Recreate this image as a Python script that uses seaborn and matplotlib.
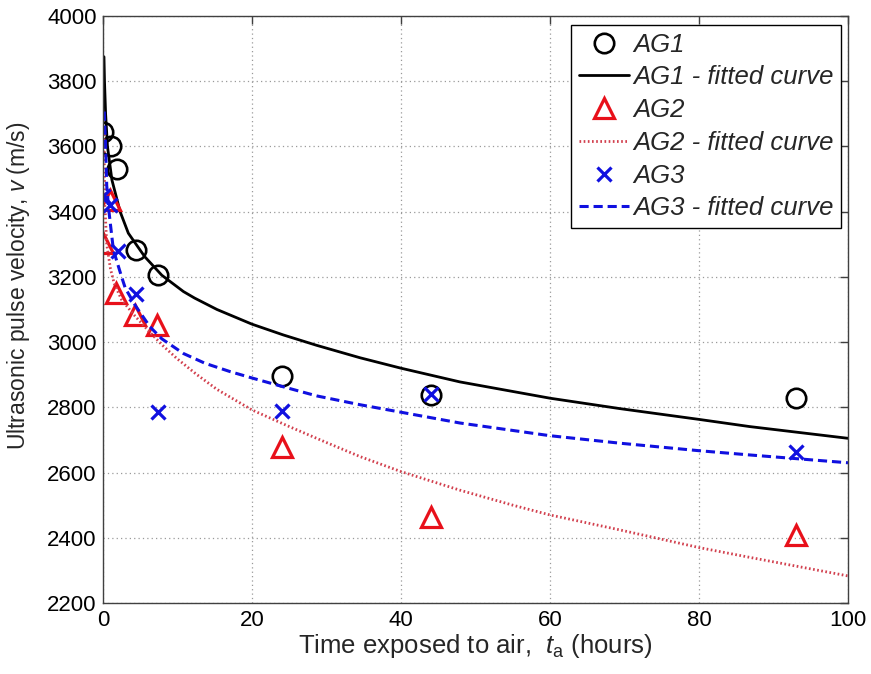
import matplotlib
matplotlib.use("Agg")
import matplotlib.pyplot as plt
import seaborn as sns
import numpy as np
import pandas as pd

# ---- measured data ----
ag1_t = [0.0, 1.1, 1.9, 4.4, 7.4, 24.0, 44.0, 93.0]
ag1_v = [3645, 3600, 3530, 3282, 3207, 2895, 2838, 2828]

ag2_t = [0.0, 0.9, 1.8, 4.3, 7.3, 24.0, 44.0, 93.0]
ag2_v = [3305, 3437, 3150, 3082, 3051, 2677, 2465, 2409]

ag3_t = [0.0, 1.0, 2.0, 4.4, 7.4, 24.0, 44.0, 93.0]
ag3_v = [3447, 3420, 3278, 3146, 2785, 2788, 2840, 2664]

fit1_t = [0.13, 0.2, 0.35, 0.6, 1.2, 2.3, 3.4, 5.6, 7.9, 10.8, 12.3, 15.3, 20, 24.2,
          28.7, 34.5, 40, 47.9, 60, 69.4, 80, 86.8, 100]
fit1_v = [3875, 3800, 3700, 3600, 3497, 3400, 3334, 3262, 3205, 3155, 3135, 3100, 3055,
          3022, 2990, 2952, 2920, 2878, 2828, 2796, 2763, 2741, 2705]

fit2_t = [0.12, 0.25, 0.5, 1.0, 1.5, 2.5, 4.1, 6.3, 8, 9.9, 12.5, 15.3, 20, 25, 30,
          34.5, 40, 47.9, 55, 60, 69.4, 80, 86.8, 100]
fit2_v = [3650, 3420, 3300, 3225, 3180, 3130, 3085, 3030, 2990, 2950, 2902, 2855, 2792,
          2741, 2692, 2649, 2603, 2546, 2500, 2470, 2424, 2370, 2340, 2283]

fit3_t = [0.17, 0.35, 0.5, 0.8, 1.4, 2.5, 3.0, 4.4, 6.3, 7.9, 10.8, 13.7, 17, 20, 24.2,
          28.7, 34.5, 40, 47.9, 60, 69.4, 80, 86.8, 100]
fit3_v = [3707, 3600, 3480, 3400, 3282, 3200, 3165, 3110, 3047, 3010, 2965, 2935, 2910,
          2890, 2863, 2835, 2808, 2785, 2752, 2713, 2690, 2667, 2654, 2630]

x_ticks = [0, 20, 40, 60, 80, 100]
y_ticks = [2200, 2400, 2600, 2800, 3000, 3200, 3400, 3600, 3800, 4000]

labels = ["AG1", "AG1 - fitted curve", "AG2", "AG2 - fitted curve",
          "AG3", "AG3 - fitted curve"]

# ---- style ----
sns.set_theme(style="white")
plt.rcParams["font.family"] = ["Liberation Sans", "DejaVu Sans"]
plt.rcParams["mathtext.fontset"] = "custom"
plt.rcParams["mathtext.rm"] = "Liberation Sans"
plt.rcParams["mathtext.it"] = "Liberation Sans:italic"

fig = plt.figure(figsize=(8.71, 6.74), dpi=100)
fig.patch.set_facecolor("white")
ax = fig.add_axes([103 / 871, 1 - 603 / 674, 745 / 871, 587 / 674])
ax.set_facecolor("white")

red = "#e8101a"
red_dot = "#d2404e"
blue = "#1010e0"

sns.lineplot(x=ag1_t, y=ag1_v, ax=ax, estimator=None, sort=False, linestyle="",
             marker="o", markersize=14, markerfacecolor="none", markeredgecolor="black",
             markeredgewidth=1.9, color="black", label=labels[0])
sns.lineplot(x=fit1_t, y=fit1_v, ax=ax, estimator=None, sort=False, color="black",
             linewidth=2.0, label=labels[1])
sns.lineplot(x=ag2_t, y=ag2_v, ax=ax, estimator=None, sort=False, linestyle="",
             marker="^", markersize=15, markerfacecolor="none", markeredgecolor=red,
             markeredgewidth=2.3, color=red, label=labels[2])
sns.lineplot(x=fit2_t, y=fit2_v, ax=ax, estimator=None, sort=False, color=red_dot,
             linewidth=2.0, linestyle=(0, (0.6, 0.9)), label=labels[3])
sns.lineplot(x=ag3_t, y=ag3_v, ax=ax, estimator=None, sort=False, linestyle="",
             marker="x", markersize=9.5, markeredgewidth=2.3, color=blue,
             markeredgecolor=blue, label=labels[4])
sns.lineplot(x=fit3_t, y=fit3_v, ax=ax, estimator=None, sort=False, color=blue,
             linewidth=2.2, linestyle=(0, (3.0, 1.6)), label=labels[5])

ax.set_xlim(0, 100)
ax.set_ylim(2200, 4000)
ax.set_xticks(x_ticks)
ax.set_yticks(y_ticks)
ax.set_xticklabels([str(t) for t in x_ticks])
ax.set_yticklabels([str(t) for t in y_ticks])

ax.grid(True, color="#9a9a9a", linestyle=(0, (1, 2.5)), linewidth=0.9)
for s in ax.spines.values():
    s.set_visible(True)
    s.set_color("#404040")
    s.set_linewidth(1.0)
ax.tick_params(direction="in", length=6, width=1, color="#404040", top=True,
               right=True, labelsize=16, labelcolor="black")
ax.tick_params(axis="x", pad=5)
ax.tick_params(axis="y", pad=4.5)

ax.set_xlabel(r"Time exposed to air,  $\mathit{t}_{\mathrm{a}}$ (hours)", fontsize=18.5,
              labelpad=1)
ax.set_ylabel(r"Ultrasonic pulse velocity, $\mathit{v}$ (m/s)", fontsize=16.5)
ax.yaxis.set_label_coords(-0.095, 0.54)

leg = ax.legend(loc="upper right", bbox_to_anchor=(0.9906, 0.9847), borderaxespad=0,
                fancybox=False, framealpha=1, edgecolor="black", numpoints=1,
                handlelength=1.95, handletextpad=0.15, labelspacing=0.34,
                borderpad=0.3, prop={"style": "italic", "size": 18.5,
                                     "family": "Liberation Sans"})
leg.get_frame().set_linewidth(1.0)

fig.savefig("out.png", dpi=100, facecolor="white")
